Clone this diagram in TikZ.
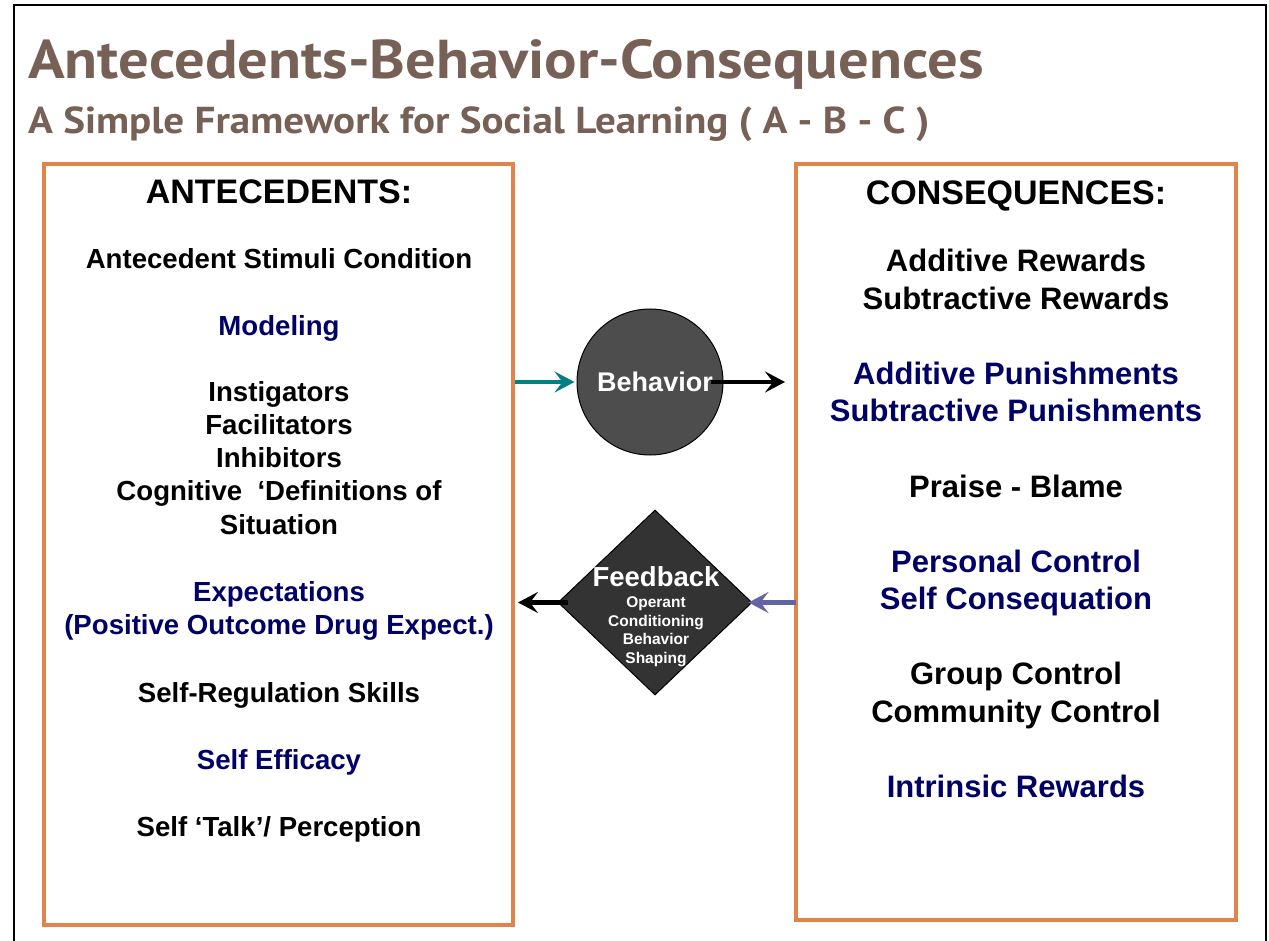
\documentclass[tikz,border=0pt]{standalone}
\usepackage{graphicx}
\usepackage{fontspec}
\setmainfont{Liberation Sans}
\newfontfamily\titlefont{PT Sans}
\usetikzlibrary{shapes.geometric,arrows.meta}
\definecolor{navy}{RGB}{0,0,102}
\definecolor{titlebrown}{RGB}{119,96,85}
\definecolor{boxorange}{RGB}{226,131,75}
\definecolor{arrteal}{RGB}{0,128,128}
\definecolor{arrblue}{RGB}{100,100,165}
\definecolor{circgray}{RGB}{77,77,77}
\definecolor{diagray}{RGB}{51,51,51}
\begin{document}
\begin{tikzpicture}[x=1pt,y=-1pt,
  lt/.style={anchor=base, font=\bfseries\fontsize{27.6}{33}\selectfont, inner sep=0pt},
  rt/.style={anchor=base, font=\bfseries\fontsize{31}{37}\selectfont, inner sep=0pt},
  hd/.style={anchor=base, font=\bfseries\fontsize{34}{40}\selectfont, inner sep=0pt},
  nv/.style={text=navy},
  obox/.style={draw=boxorange, line width=4pt, inner sep=0pt},
  fat/.style={line width=4.5pt, -{Stealth[length=20pt,width=21pt,inset=8pt]}},
  wt/.style={text=white, anchor=base, inner sep=0pt},
]
\useasboundingbox (0,0) rectangle (1269,941);
\fill[white] (0,0) rectangle (1269,941);
\draw[line width=2pt] (14,941) -- (14,5) -- (1266,5) -- (1266,941);

% titles
\node[anchor=north west, inner sep=0pt, text=titlebrown] (title) at (28,39)
  {\resizebox*{955pt}{50pt}{\titlefont\bfseries Antecedents-Behavior-Consequences}};
\node[anchor=north west, inner sep=0pt, text=titlebrown] (subtitle) at (28,107)
  {\resizebox*{901pt}{35pt}{\titlefont\bfseries A Simple Framework for Social Learning ( A - B - C )}};

% boxes
\node[obox, minimum width=469pt, minimum height=761pt] (ant) at (278.5,544.5) {};
\node[obox, minimum width=440pt, minimum height=756pt] (cons) at (1016,542) {};

% left texts
\node[hd] (a0) at (279,204) {ANTECEDENTS:};
\node[lt] (a1) at (279,269) {Antecedent Stimuli Condition};
\node[lt,nv] (a2) at (279,335) {Modeling};
\node[lt] (a3) at (279,401) {Instigators};
\node[lt] (a4) at (279,434) {Facilitators};
\node[lt] (a5) at (279,467) {Inhibitors};
\node[lt] (a6) at (279,500) {Cognitive\ \ ‘Definitions of};
\node[lt] (a7) at (279,534) {Situation};
\node[lt,nv] (a8) at (279,601) {Expectations};
\node[lt,nv] (a9) at (279,634) {(Positive Outcome Drug Expect.)};
\node[lt] (a10) at (279,702) {Self-Regulation Skills};
\node[lt,nv] (a11) at (279,769) {Self Efficacy};
\node[lt] (a12) at (279,836) {Self ‘Talk’/ Perception};

% right texts
\node[hd] (c0) at (1016,205) {CONSEQUENCES:};
\node[rt] (c1) at (1016,272) {Additive Rewards};
\node[rt] (c2) at (1016,309) {Subtractive Rewards};
\node[rt,nv] (c3) at (1016,384) {Additive Punishments};
\node[rt,nv] (c4) at (1016,421) {Subtractive Punishments};
\node[rt] (c5) at (1016,497) {Praise - Blame};
\node[rt,nv] (c6) at (1016,572) {Personal Control};
\node[rt,nv] (c7) at (1016,609) {Self Consequation};
\node[rt] (c8) at (1016,684) {Group Control};
\node[rt] (c9) at (1016,722) {Community Control};
\node[rt,nv] (c10) at (1016,797) {Intrinsic Rewards};

% behavior circle
\node[circle, fill=circgray, draw=black, line width=1pt, minimum size=146pt, inner sep=0pt] (beh) at (650,382) {};
\draw[fat, arrteal] (ant.east |- beh.west) -- ([xshift=-2pt]beh.west);
\draw[fat] ([xshift=-13pt]beh.east) -- ([xshift=-9pt]cons.west |- beh.east);
\node[text=white, font=\bfseries\fontsize{27}{32}\selectfont, inner sep=0pt] (behtxt) at (655,382) {Behavior};

% feedback diamond
\node[diamond, fill=diagray, draw=black, line width=1pt, minimum width=194pt, minimum height=185pt, inner sep=0pt] (fb) at (655,602.5) {};
\draw[fat] ([xshift=10pt]fb.west) -- ([xshift=3pt]ant.east |- fb.west);
\draw[fat, arrblue] ([xshift=2pt]cons.west |- fb.east) -- ([xshift=-4pt]fb.east);
\node[wt, font=\bfseries\fontsize{27.5}{32}\selectfont] (fbt) at (656,586) {Feedback};
\node[wt, font=\bfseries\fontsize{15.5}{19}\selectfont] (fb1) at (656,607.5) {Operant};
\node[wt, font=\bfseries\fontsize{15.5}{19}\selectfont] (fb2) at (656,626.2) {Conditioning};
\node[wt, font=\bfseries\fontsize{15.5}{19}\selectfont] (fb3) at (656,644.9) {Behavior};
\node[wt, font=\bfseries\fontsize{15.5}{19}\selectfont] (fb4) at (656,663.6) {Shaping};
\end{tikzpicture}
\end{document}
